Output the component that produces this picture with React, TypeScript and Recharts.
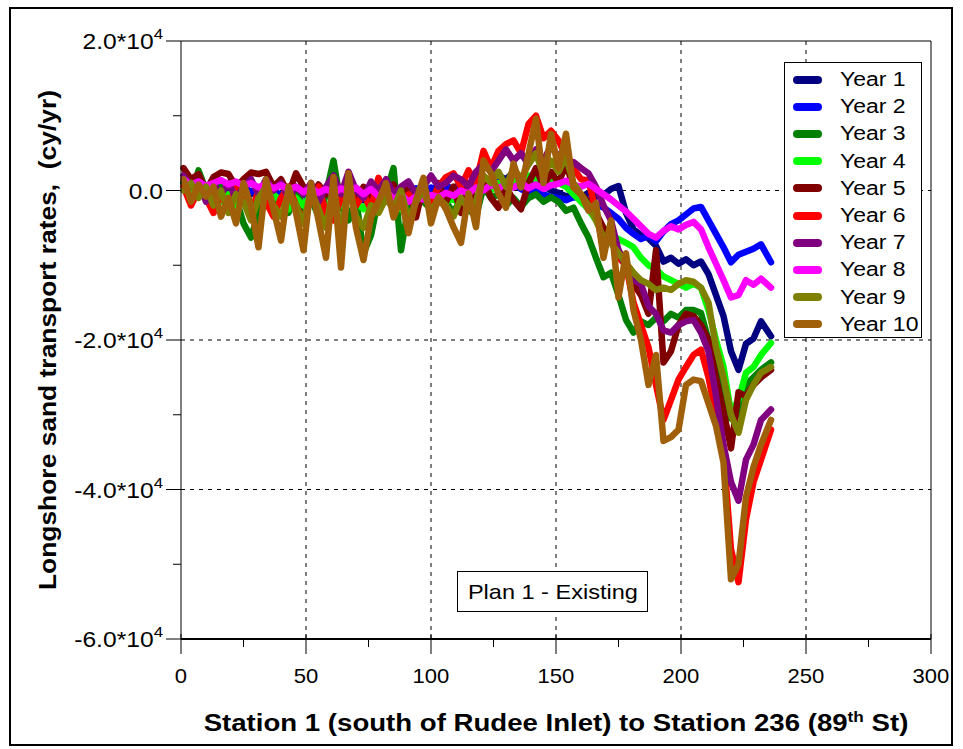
import React from "react";
import { LineChart, Line, XAxis, YAxis, CartesianGrid, Legend } from "recharts";

// Station numbers (sampled every 3 stations)
const stations = [
  1, 4, 7, 10, 13, 16, 19, 22, 25, 28,
  31, 34, 37, 40, 43, 46, 49, 52, 55, 58,
  61, 64, 67, 70, 73, 76, 79, 82, 85, 88,
  91, 94, 97, 100, 103, 106, 109, 112, 115, 118,
  121, 124, 127, 130, 133, 136, 139, 142, 145, 148,
  151, 154, 157, 160, 163, 166, 169, 172, 175, 178,
  181, 184, 187, 190, 193, 196, 199, 202, 205, 208,
  211, 214, 217, 220, 223, 226, 229, 232, 236,
];

// Longshore sand transport rates, in thousands of cy/yr
const year1 = [1.0,0.5,0.8,0.2,0.6,0.0,0.4,-0.3,0.2,-0.5,
0.0,-0.6,-0.2,-0.8,-0.4,-1.0,-0.5,-1.2,-0.8,-0.3,
-0.9,-0.4,-1.0,-0.6,-1.3,-0.8,-0.2,-0.9,-0.5,0.3,
-0.4,0.2,-0.6,0.3,-0.2,0.6,0.2,1.0,0.5,1.2,
1.8,1.2,2.0,1.5,2.4,1.8,1.0,1.6,0.6,0.0,
-0.3,-0.8,-0.4,-0.9,-0.3,-0.8,-0.6,0.2,0.6,-3.0,
-5.2,-6.0,-6.4,-7.4,-9.5,-9.0,-9.8,-9.2,-10.0,-9.5,
-11.2,-14.0,-16.8,-21.5,-24.0,-20.5,-19.8,-17.5,-19.5];

const year2 = [1.2,0.8,1.0,0.5,0.9,0.3,0.7,0.1,0.5,-0.2,
0.3,-0.4,0.0,-0.6,-0.2,-0.8,-0.3,-1.0,-0.5,-0.1,
-0.7,-0.2,-0.8,-0.4,-1.1,-0.6,0.0,-0.7,-0.3,0.4,
-0.2,0.3,-0.4,0.4,0.0,0.5,0.1,0.8,0.3,0.9,
1.3,0.8,1.2,0.6,1.0,0.2,-0.3,0.2,-0.5,-0.9,
-1.0,-1.3,-0.9,-1.0,-1.3,-1.8,-2.3,-3.0,-3.8,-5.0,
-5.8,-6.5,-6.0,-6.8,-5.5,-4.5,-4.0,-3.2,-2.4,-2.2,
-4.0,-5.8,-7.6,-9.6,-8.6,-8.2,-7.8,-7.2,-9.6];

const year3 = [1.0,-1.0,2.7,0.0,-1.5,0.5,-2.0,-1.0,-4.4,-6.3,
-3.0,-0.5,-2.0,-1.0,-3.0,0.5,-2.5,-1.0,-3.5,-0.5,
4.0,-2.0,-4.0,-1.0,-8.4,-6.0,-1.0,-0.5,3.0,-8.0,
-2.0,0.0,-1.5,-2.5,-0.5,-1.5,-3.0,-1.0,-2.5,-3.5,
0.5,-1.0,-0.5,-2.0,-1.0,-2.2,-1.0,-0.5,-1.5,-0.9,
-1.5,-2.7,-2.3,-4.4,-6.3,-9.0,-11.6,-11.0,-14.0,-17.3,
-19.0,-17.5,-18.0,-17.0,-17.5,-16.5,-17.0,-16.0,-16.0,-16.4,
-20.0,-23.0,-26.0,-30.5,-30.0,-26.0,-25.0,-24.0,-23.0];

const year4 = [0.5,-0.5,1.0,-1.0,0.0,-1.5,-0.5,-2.0,-1.0,-2.5,
-1.0,-2.0,-0.5,-1.5,-2.5,-1.0,-2.0,-0.5,-1.5,-2.5,
-1.0,-2.0,-0.5,-1.5,-2.5,-1.0,-2.0,-0.5,-1.5,-2.5,
-1.0,-2.0,-0.5,-1.5,-0.5,-1.5,-1.0,-2.3,-0.5,-1.0,
0.5,0.0,1.0,0.5,1.5,0.8,2.0,1.5,2.5,1.5,
1.0,0.5,-0.5,-1.5,-2.5,-4.0,-5.0,-6.0,-6.5,-7.0,
-7.6,-9.0,-10.0,-10.5,-11.5,-12.0,-12.5,-13.0,-12.5,-13.0,
-16.0,-20.0,-23.6,-29.7,-28.0,-24.4,-23.6,-22.0,-20.4];

const year5 = [3.0,1.5,2.2,0.0,1.8,2.4,2.2,0.5,1.5,2.4,
2.2,2.5,0.5,1.5,-0.5,2.3,0.5,-1.0,0.8,-0.5,
1.5,-1.0,0.8,-2.0,0.5,-1.5,1.0,-0.5,0.8,-2.0,
0.5,-3.6,0.8,-2.5,1.0,-1.5,0.5,-3.0,1.0,-2.0,
1.5,-1.0,-2.3,0.5,-1.3,-2.5,1.0,3.0,0.5,2.5,
1.0,3.5,0.5,-0.5,-1.5,-3.0,-5.0,-6.5,-8.0,-10.0,
-12.5,-14.0,-16.5,-8.0,-23.0,-21.5,-18.0,-16.5,-16.8,-18.0,
-20.0,-25.0,-29.5,-34.5,-27.0,-27.5,-26.0,-25.0,-24.0];

const year6 = [0.5,-2.0,0.0,-1.0,-3.0,-0.5,-2.5,0.5,-1.5,-3.0,
0.0,-1.5,-3.5,-1.0,0.5,-2.0,-4.0,-1.0,0.5,-3.0,
-4.0,-1.0,0.5,-2.0,-0.5,-2.5,1.7,-1.5,0.0,-2.0,
-0.5,-1.0,0.5,-1.5,0.5,1.8,2.3,0.5,2.7,1.0,
5.3,3.0,5.3,6.2,6.7,5.0,8.9,10.0,7.0,8.0,
6.7,4.5,3.0,1.5,1.3,-2.7,-8.0,-6.0,-9.0,-10.0,
-15.0,-18.0,-21.0,-26.0,-30.7,-28.0,-25.3,-23.6,-22.0,-21.3,
-25.0,-30.0,-35.0,-48.0,-52.4,-44.0,-39.0,-36.0,-32.0];

const year7 = [2.0,0.5,1.2,-1.5,0.8,-0.5,1.0,-1.0,0.5,1.5,
-0.5,1.5,0.0,1.0,-1.0,0.5,-0.5,1.0,-1.5,0.5,
2.0,-0.5,2.5,0.0,-1.0,1.2,0.0,1.5,-0.5,0.5,
1.2,-0.5,0.5,2.0,0.5,1.0,2.0,1.5,0.5,2.5,
3.5,2.5,4.0,5.5,4.0,5.0,3.5,5.5,4.0,6.0,
4.5,4.0,3.8,3.0,2.3,0.5,-2.0,-4.0,-8.0,-10.3,
-12.0,-12.5,-15.5,-16.5,-18.7,-19.0,-18.0,-17.5,-17.3,-19.0,
-21.5,-27.5,-34.0,-39.0,-41.5,-36.0,-34.0,-30.7,-29.3];

const year8 = [1.5,0.8,1.2,0.6,1.0,1.4,0.8,1.2,0.6,1.0,
0.4,0.9,0.3,0.7,0.2,0.5,-0.2,0.3,-0.3,0.2,
-0.4,0.3,-0.2,0.4,-0.5,0.2,-0.8,0.0,-1.2,-0.5,
-1.5,-0.8,-1.2,-0.6,-0.9,-0.3,-0.7,0.0,-0.4,0.4,
0.0,0.8,0.3,0.9,0.4,1.0,0.3,0.8,0.2,0.7,
0.9,1.3,0.8,0.5,0.9,0.2,-0.5,-1.2,-2.0,-2.8,
-3.8,-4.8,-5.8,-6.3,-5.4,-4.8,-5.2,-4.6,-4.2,-5.2,
-7.6,-9.8,-12.0,-14.3,-14.0,-12.0,-12.6,-11.8,-13.0];

const year9 = [0.0,1.0,-1.0,0.5,-2.0,0.0,-3.0,-0.5,-1.5,-4.0,
-1.0,0.5,-2.0,-3.5,-0.5,-2.0,-4.5,0.0,-2.5,-5.0,
0.5,-6.0,0.5,-3.5,-5.0,-2.0,-3.0,-1.0,-2.5,0.0,
-4.0,-1.5,0.0,-3.0,-1.0,-2.0,-3.5,-1.0,-2.5,-1.5,
2.0,1.0,2.5,0.5,3.0,1.5,3.5,5.0,2.0,4.0,
2.5,4.5,1.0,-0.5,-2.0,-4.0,-6.3,-7.0,-8.4,-9.7,
-11.0,-12.0,-12.5,-13.3,-13.0,-13.3,-12.5,-12.0,-12.2,-13.0,
-15.0,-21.0,-25.0,-30.0,-32.4,-28.0,-26.0,-24.4,-23.6];

const year10 = [1.5,-1.5,0.8,-0.8,0.5,-3.5,-1.0,-4.4,1.0,-2.0,
-7.6,1.5,-2.5,-6.7,0.5,-3.0,-8.0,1.0,-4.0,-9.0,
1.8,-10.3,2.3,-5.0,-9.3,-3.6,-1.5,1.0,-3.6,-1.0,
-5.7,-1.3,1.7,-4.4,-0.9,-2.5,-4.9,-7.0,-0.4,-4.9,
4.0,2.3,-0.4,-2.3,3.6,0.4,4.9,9.6,1.0,7.6,
3.0,7.6,0.4,-0.5,-2.7,-1.7,-9.0,-4.0,-14.3,-8.4,
-16.0,-20.0,-26.0,-22.0,-33.5,-33.0,-32.0,-26.0,-25.3,-25.5,
-28.5,-31.5,-36.4,-52.0,-50.0,-41.0,-37.0,-34.0,-30.7];

const seriesNames = ["Year 1","Year 2","Year 3","Year 4","Year 5","Year 6","Year 7","Year 8","Year 9","Year 10"];
const seriesColors = ["#000080","#0000FF","#008000","#00FF00","#800000","#FF0000","#800080","#FF00FF","#808000","#A0600A"];
const seriesValues = [year1, year2, year3, year4, year5, year6, year7, year8, year9, year10];

const xTicks = [0,25,50,75,100,125,150,175,200,225,250,275,300];
const yTicks = [20,10,0,-10,-20,-30,-40,-50,-60];
const yGrid = [0,-20,-40];
const xGrid = [50,100,150,200,250];

const rows = stations.map((s, i) => {
  const r: any = { station: s };
  seriesValues.forEach((arr, k) => { r["y" + (k + 1)] = arr[i]; });
  return r;
});

const FONT = "'Liberation Sans', Arial, sans-serif";

const XTick = (props: any) => {
  const { x, y, payload } = props;
  const v = payload.value;
  const major = v % 50 === 0;
  return (
    <g>
      <line x1={x} x2={x} y1={y - (major ? 5 : 0)} y2={y + (major ? 15 : 8)} stroke="#000" strokeWidth={1} />
      {major && (
        <text x={0} y={0} transform={`translate(${x}, ${y + 44}) scale(1.05, 1)`} textAnchor="middle" fontSize={21} fontFamily={FONT} fill="#000">{v}</text>
      )}
    </g>
  );
};

const YTick = (props: any) => {
  const { x, y, payload } = props;
  const v = payload.value;
  const major = v % 20 === 0;
  const base = (v / 10).toFixed(1);
  return (
    <g>
      <line x1={x - (major ? 15 : 8)} x2={x} y1={y} y2={y} stroke="#000" strokeWidth={1} />
      {major && (
        <text x={0} y={0} transform={`translate(${x - 18}, ${y + 8}) scale(1.12, 1)`} textAnchor="end" fontSize={22} fontFamily={FONT} fill="#000">
          {v === 0 ? (
            <tspan>0.0</tspan>
          ) : (
            <>
              <tspan>{base}*10</tspan>
              <tspan dy={-10} fontSize={15}>4</tspan>
            </>
          )}
        </text>
      )}
    </g>
  );
};

const RTick = (props: any) => {
  const { x, y, payload } = props;
  const major = payload.value % 20 === 0;
  return <line x1={x - (major ? 8 : 5)} x2={x} y1={y} y2={y} stroke="#000" strokeWidth={1} />;
};

const LegendBox = () => (
  <div style={{ width: 138, height: 276, border: "1px solid #000", background: "#fff", boxSizing: "border-box", paddingTop: 3 }}>
    {seriesNames.map((name, i) => (
      <div key={name} style={{ display: "flex", alignItems: "center", height: 27.2 }}>
        <div style={{ width: 29, height: 8, borderRadius: 4, background: seriesColors[i], marginLeft: 8, marginRight: 18 }} />
        <span style={{ fontFamily: FONT, fontSize: 20, color: "#000", display: "inline-block", transform: "scaleX(1.15)", transformOrigin: "left center", whiteSpace: "nowrap" }}>{name}</span>
      </div>
    ))}
  </div>
);

export default function App() {
  return (
    <div style={{ position: "absolute", left: 0, top: 0, width: 963, height: 749, background: "#fff" }}>
      <div style={{ position: "absolute", left: 9, top: 7, width: 940, height: 735, border: "2px solid #000" }} />
      <div style={{ position: "absolute", left: 0, top: 0 }}>
        <LineChart width={963} height={749} data={rows} margin={{ top: 40, right: 31, bottom: 70, left: 61 }}>
          <CartesianGrid stroke="#000" strokeDasharray="4 5" horizontalValues={yGrid} verticalValues={xGrid} />
          <XAxis
            dataKey="station"
            type="number"
            domain={[0, 300]}
            ticks={xTicks}
            interval={0}
            height={40}
            tickSize={0}
            tickMargin={0}
            tickLine={false}
            axisLine={{ stroke: "#000", strokeWidth: 2 }}
            tick={<XTick />}
            label={{ content: (p: any) => {
              const vb = p.viewBox;
              const cx = vb.x + vb.width / 2;
              return (
                <text x={0} y={0} transform={`translate(${cx}, 731) scale(1.15, 1)`} textAnchor="middle" fontSize={24} fontWeight="bold" fontFamily={FONT} fill="#000">
                  <tspan>Station 1 (south of Rudee Inlet) to Station 236 (89</tspan>
                  <tspan dy={-9} fontSize={15}>th</tspan>
                  <tspan dy={9}> St)</tspan>
                </text>
              );
            } }}
          />
          <XAxis xAxisId="top" orientation="top" dataKey="station" type="number" domain={[0, 300]} height={1} tick={false} tickLine={false} axisLine={{ stroke: "#000" }} />
          <YAxis
            type="number"
            domain={[-60, 20]}
            ticks={yTicks}
            interval={0}
            width={120}
            tickSize={0}
            tickMargin={0}
            tickLine={false}
            axisLine={{ stroke: "#000" }}
            tick={<YTick />}
            label={{ content: (p: any) => {
              const vb = p.viewBox;
              const cy = vb.y + vb.height / 2;
              return (
                <text x={0} y={0} transform={`translate(56, ${cy}) rotate(-90) scale(1.1, 1)`} textAnchor="middle" fontSize={24} fontWeight="bold" fontFamily={FONT} fill="#000" xmlSpace="preserve">
                  Longshore sand transport rates,  (cy/yr)
                </text>
              );
            } }}
          />
          <YAxis yAxisId="r" orientation="right" type="number" domain={[-60, 20]} ticks={yTicks} interval={0} width={1} tickSize={0} tickMargin={0} tickLine={false} axisLine={{ stroke: "#000" }} tick={<RTick />} />
          {seriesNames.map((name, k) => (
            <Line
              key={name}
              dataKey={"y" + (k + 1)}
              name={name}
              stroke={seriesColors[k]}
              strokeWidth={6.5}
              strokeLinejoin="round"
              strokeLinecap="round"
              dot={false}
              type="linear"
              isAnimationActive={false}
            />
          ))}
          <Legend layout="vertical" align="center" verticalAlign="middle" content={<LegendBox />} wrapperStyle={{ position: "absolute", left: 784, top: 62, width: 138, height: 276 }} />
        </LineChart>
      </div>
      <div style={{ position: "absolute", left: 457, top: 571, width: 189, height: 39, border: "1.5px solid #000", background: "#fff", display: "flex", alignItems: "center", justifyContent: "center" }}>
        <span style={{ fontFamily: FONT, fontSize: 21, color: "#000", display: "inline-block", transform: "scaleX(1.12)", whiteSpace: "nowrap" }}>Plan 1 - Existing</span>
      </div>
    </div>
  );
}
